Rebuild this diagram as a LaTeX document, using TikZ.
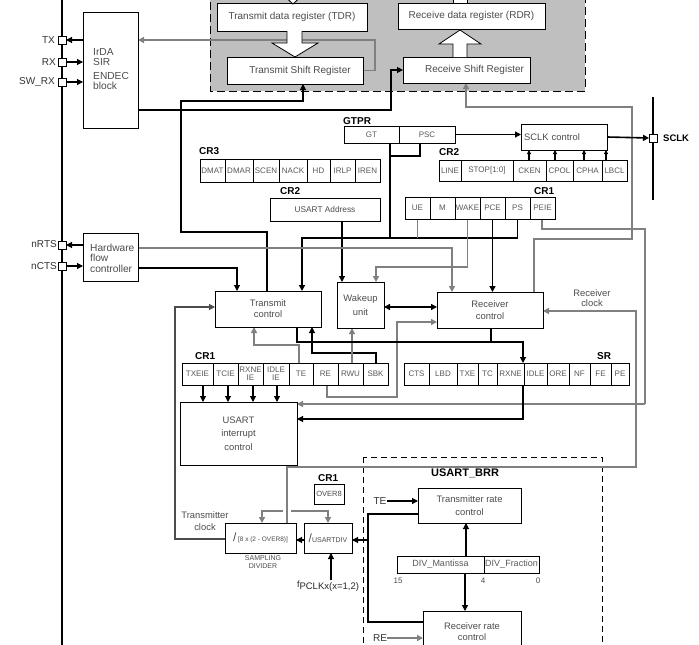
\documentclass[tikz,border=0pt]{standalone}
\usepackage{fontspec}
\setmainfont{Liberation Sans}
\usetikzlibrary{arrows.meta}
\pgfdeclarelayer{back}
\pgfdeclarelayer{bg}
\pgfsetlayers{back,bg,main}
\begin{document}
\begin{tikzpicture}[x=1pt,y=-1pt,
  box/.style={draw, fill=white, line width=0.9pt, inner sep=1pt, outer sep=0pt, font=\fontsize{9.4}{11}\selectfont, text=black!70, align=center},
  fld/.style={draw, fill=white, line width=0.9pt, inner sep=0pt, outer sep=0pt, font=\fontsize{8}{7.6}\selectfont, text=black!65, minimum height=22pt, anchor=west, align=center},
  lbl/.style={inner sep=0pt, font=\bfseries\fontsize{10}{10}\selectfont, anchor=west},
  ptxt/.style={inner sep=0pt, font=\fontsize{10}{10}\selectfont, text=black!80, anchor=east},
  txt/.style={inner sep=0pt, font=\fontsize{9.4}{10}\selectfont, text=black!70, align=center},
  pinbox/.style={draw, fill=white, minimum size=8pt, inner sep=0pt, outer sep=0pt, line width=0.8pt},
  blk/.style={line width=1.1pt, draw=black},
  thk/.style={line width=1.6pt, draw=black},
  gry/.style={line width=1.4pt, draw=black!50},
  arr/.style={-{Triangle[length=6pt,width=6pt]}},
  sarr/.style={-{Triangle[length=4pt,width=4pt]}},
]
\useasboundingbox (0,0) rectangle (699,645);
\begin{pgfonlayer}{back}
\fill[white] (0,0) rectangle (699,645);
\draw[fill=black!25, dash pattern=on 8pt off 4pt, line width=1pt] (210,-10) rectangle (585,91);
\draw[dash pattern=on 6pt off 4pt, line width=0.9pt] (363,457) rectangle (602,660);
\draw[line width=1.8pt] (62,0) -- (62,645);
\draw[line width=1.5pt] (653,97) -- (653,200);
\end{pgfonlayer}

% ---------- pins ----------
\node[pinbox] (txp) at (62,40) {};
\node[pinbox] (rxp) at (62,62) {};
\node[pinbox] (swp) at (62,82) {};
\node[pinbox] (rtsp) at (62,245) {};
\node[pinbox] (ctsp) at (62,266) {};
\node[pinbox] (sclkp) at (653,138) {};
\node[ptxt] (txl) at (55,40) {TX};
\node[ptxt] (rxl) at (56,62) {RX};
\node[ptxt] (swl) at (55,82) {SW\_RX};
\node[ptxt] (rtsl) at (57,244) {nRTS};
\node[ptxt] (ctsl) at (57,266) {nCTS};
\node[lbl, font=\bfseries\fontsize{9.5}{10}\selectfont] (sclkl) at (663,138) {SCLK};

% ---------- left blocks ----------
\node[box, minimum width=55pt, minimum height=116pt] (irda) at (110.5,70) {};
\node[txt, anchor=west, align=left, font=\fontsize{10.2}{10.5}\selectfont] (irdat1) at (93,57) {IrDA\\SIR};
\node[txt, anchor=west, align=left, font=\fontsize{10.2}{10.5}\selectfont] (irdat2) at (93,81) {ENDEC\\block};
\node[box, minimum width=55pt, minimum height=48pt] (hfc) at (110.5,257) {};
\node[txt, anchor=west, align=left, font=\fontsize{10.2}{10.5}\selectfont] (hfct) at (90,258) {Hardware\\flow\\controller};

% ---------- data registers ----------
\node[box, minimum width=150pt, minimum height=28pt, font=\fontsize{10}{10}\selectfont] (tdr) at (292,17) {Transmit data register (TDR)};
\node[box, minimum width=147pt, minimum height=26pt, font=\fontsize{10}{10}\selectfont] (rdr) at (471.5,16) {Receive data register (RDR)};
\node[box, minimum width=136pt, minimum height=27pt, font=\fontsize{10}{10}\selectfont] (tsr) at (295,70.5) {\hspace*{10pt}Transmit Shift Register};
\node[box, minimum width=127pt, minimum height=26pt, font=\fontsize{10}{10}\selectfont] (rsr) at (466.5,70) {\hspace*{16pt}Receive Shift Register};

% ---------- GTPR / SCLK ----------
\node[lbl] (gtprl) at (343,121) {GTPR};
\node[fld, minimum width=55pt, minimum height=17pt] (gt) at (344,134.5) {GT};
\node[fld, minimum width=56pt, minimum height=17pt] (psc) at (gt.east) {PSC};
\node[box, minimum width=86pt, minimum height=26pt, text width=80pt, align=left] (sclk) at (564,137) {SCLK control};

% CR2 upper
\node[lbl] (cr2al) at (439,152) {CR2};
\node[fld, minimum width=22pt, minimum height=21pt] (linef) at (439,170.5) {LINE};
\node[fld, minimum width=52pt, minimum height=21pt] (stopf) at (linef.east) {STOP[1:0]};
\node[fld, minimum width=33pt, minimum height=21pt] (cken) at (stopf.east) {CKEN};
\node[fld, minimum width=27pt, minimum height=21pt] (cpol) at (cken.east) {CPOL};
\node[fld, minimum width=29pt, minimum height=21pt] (cpha) at (cpol.east) {CPHA};
\node[fld, minimum width=25pt, minimum height=21pt] (lbcl) at (cpha.east) {LBCL};

% CR3
\node[lbl] (cr3l) at (199,151) {CR3};
\node[fld, minimum width=25pt, minimum height=23pt] (dmat) at (200,170.5) {DMAT};
\node[fld, minimum width=28pt, minimum height=23pt] (dmar) at (dmat.east) {DMAR};
\node[fld, minimum width=26pt, minimum height=23pt] (scen) at (dmar.east) {SCEN};
\node[fld, minimum width=28pt, minimum height=23pt] (nack) at (scen.east) {NACK};
\node[fld, minimum width=23pt, minimum height=23pt] (hd) at (nack.east) {HD};
\node[fld, minimum width=25pt, minimum height=23pt] (irlp) at (hd.east) {IRLP};
\node[fld, minimum width=25pt, minimum height=23pt] (iren) at (irlp.east) {IREN};

% CR2 address
\node[lbl] (cr2bl) at (280,191) {CR2};
\node[box, minimum width=110pt, minimum height=23pt, font=\fontsize{8.3}{8}\selectfont] (addr) at (325,209.5) {USART Address};

% CR1 upper
\node[lbl] (cr1al) at (534,191) {CR1};
\node[fld, minimum width=25pt] (ue) at (405,208) {UE};
\node[fld, minimum width=25pt] (mf) at (ue.east) {M};
\node[fld, minimum width=25pt] (wake) at (mf.east) {WAKE};
\node[fld, minimum width=25pt] (pce) at (wake.east) {PCE};
\node[fld, minimum width=25pt] (ps) at (pce.east) {PS};
\node[fld, minimum width=25pt] (peie) at (ps.east) {PEIE};

% ---------- control blocks ----------
\node[box, minimum width=106pt, minimum height=36pt, font=\fontsize{9.4}{11}\selectfont] (tc) at (268,309) {Transmit\\control};
\node[box, minimum width=47pt, minimum height=46pt, font=\fontsize{9.4}{13.5}\selectfont] (wu) at (360.5,305) {Wakeup\\unit};
\node[box, minimum width=106pt, minimum height=36pt, font=\fontsize{9.4}{12}\selectfont] (rc) at (490,310) {Receiver\\control};

% CR1 lower
\node[lbl] (cr1bl) at (195,356) {CR1};
\node[fld, minimum width=31pt] (txeie) at (182,374) {TXEIE};
\node[fld, minimum width=25pt] (tcie) at (txeie.east) {TCIE};
\node[fld, minimum width=25pt] (rxneie) at (tcie.east) {RXNE\\IE};
\node[fld, minimum width=26pt] (idleie) at (rxneie.east) {IDLE\\IE};
\node[fld, minimum width=24pt] (te) at (idleie.east) {TE};
\node[fld, minimum width=25pt] (re) at (te.east) {RE};
\node[fld, minimum width=25pt] (rwu) at (re.east) {RWU};
\node[fld, minimum width=25pt] (sbk) at (rwu.east) {SBK};

% SR
\node[lbl] (srl) at (597,356) {SR};
\node[fld, minimum width=25pt] (cts) at (404,374) {CTS};
\node[fld, minimum width=28pt] (lbd) at (cts.east) {LBD};
\node[fld, minimum width=21pt] (txe) at (lbd.east) {TXE};
\node[fld, minimum width=19pt] (tcf) at (txe.east) {TC};
\node[fld, minimum width=27pt] (rxne) at (tcf.east) {RXNE};
\node[fld, minimum width=23pt] (idle) at (rxne.east) {IDLE};
\node[fld, minimum width=22pt] (ore) at (idle.east) {ORE};
\node[fld, minimum width=21pt] (nf) at (ore.east) {NF};
\node[fld, minimum width=21pt] (fe) at (nf.east) {FE};
\node[fld, minimum width=18pt] (pe) at (fe.east) {PE};

% interrupt control
\node[box, minimum width=117pt, minimum height=63pt, font=\fontsize{9.4}{13.5}\selectfont] (ic) at (238.5,433.5) {USART\\interrupt\\control};

% ---------- clock part ----------
\node[lbl] (cr1cl) at (318,478) {CR1};
\node[box, minimum width=30pt, minimum height=20pt, font=\fontsize{7.5}{8}\selectfont] (over8) at (329,494) {OVER8};
\node[box, minimum width=48pt, minimum height=30pt, inner sep=0pt] (udiv) at (328,538) {{\fontsize{12}{12}\selectfont /}{\fontsize{7}{7}\selectfont USARTDIV}};
\node[box, minimum width=71pt, minimum height=30pt, inner sep=0pt] (sd) at (260.5,538) {{\fontsize{12}{12}\selectfont /}\,{\fontsize{6.5}{7}\selectfont [8 x (2 - OVER8)]}};
\node[txt, font=\fontsize{7}{8}\selectfont] (sdl) at (263,562) {SAMPLING\\DIVIDER};
\node[txt, font=\fontsize{9.4}{12}\selectfont] (txclk) at (205,521) {Transmitter\\clock};
\node[txt, font=\fontsize{9.4}{10}\selectfont] (rxclk) at (592,298) {Receiver\\clock};
\node[txt, text=black!85] (fpclk) at (328,586) {{\fontsize{9}{9}\selectfont f}\raisebox{-2.5pt}{\fontsize{9.5}{10}\selectfont PCLKx(x=1,2)}};

% USART_BRR
\node[lbl, font=\bfseries\fontsize{11}{11}\selectfont] (brrl) at (431,473) {USART\_BRR};
\node[box, minimum width=103pt, minimum height=35pt, font=\fontsize{9.4}{13}\selectfont] (txr) at (469.5,505.5) {Transmitter rate\\control};
\node[fld, minimum width=87pt, minimum height=17pt, font=\fontsize{9}{9}\selectfont] (mant) at (397,564.5) {DIV\_Mantissa};
\node[fld, minimum width=55pt, minimum height=17pt, font=\fontsize{9}{9}\selectfont] (frac) at (mant.east) {DIV\_Fraction};
\node[txt, font=\fontsize{8}{8}\selectfont] (n15) at (398,581) {15};
\node[txt, font=\fontsize{8}{8}\selectfont] (n4) at (483,581) {4};
\node[txt, font=\fontsize{8}{8}\selectfont] (n0) at (538,581) {0};
\node[box, minimum width=98pt, minimum height=42pt, font=\fontsize{9.4}{11}\selectfont] (rxr) at (472,632) {Receiver rate\\control};
\node[txt, font=\fontsize{10}{10}\selectfont, text=black!80] (tel) at (380,501) {TE};
\node[txt, font=\fontsize{10}{10}\selectfont, text=black!80] (rel) at (380,638) {RE};

% ---------- fat arrows ----------
\draw[fill=white, line width=0.8pt] (287,31) -- (287,43) -- (272,43) -- (295,57) -- (318,43) -- (302,43) -- (302,31);
\draw[fill=white, line width=0.8pt] (453,57) -- (453,44) -- (439,44) -- (460,30) -- (481,44) -- (467,44) -- (467,57);
\draw[fill=white, line width=0.8pt] (280,-8) -- (293,4) -- (306,-8);
\draw[fill=white, line width=0.8pt] (453,3) -- (453,-5) -- (467,-5) -- (467,3);

% ---------- connectors ----------
\begin{pgfonlayer}{bg}
% pins
\draw[blk,arr] (irda.west |- txp) -- (txp.east);
\draw[blk,arr] (rxp.east) -- (irda.west |- rxp);
\draw[blk,arr] (swp.east) -- (irda.west |- swp);
\draw[blk,arr] (hfc.west |- rtsp) -- (rtsp.east);
\draw[blk,arr] (ctsp.east) -- (hfc.west |- ctsp);
% shift registers
\draw[gry,arr] (tsr.east) -- (375,70.5) -- (375,40) -- (irda.east |- 0,40);
\draw[blk,arr] (irda.east |- 0,110) -- (391,110) -- (391,70) -- (rsr.west);
\draw[blk,arr] (tc.north -| 267,0) -- (267,232) -- (181,232) -- (181,101) -- (303,101) -- (tsr.south -| 303,0);
\draw[gry,arr] (rc.north -| 534,0) -- (534,239) -- (632,239) -- (632,107) -- (466,107) -- (rsr.south -| 466,0);
% GTPR / SCLK
\draw[blk] (gt.south -| 390,0) -- (390,238);
\draw[blk] (390,156) -- (420,156) -- (psc.south -| 420,0);
\draw[blk,arr] (psc.east) -- (sclk.west |- psc.east);
\draw[thk,arr] (sclk.east) -- (sclkp.west);
\draw[blk,sarr] (cken.north -| 529,0) -- (sclk.south -| 529,0);
\draw[blk,sarr] (cpol.north -| 555,0) -- (sclk.south -| 555,0);
\draw[blk,sarr] (cpha.north -| 584,0) -- (sclk.south -| 584,0);
\draw[blk,sarr] (lbcl.north -| 606,0) -- (sclk.south -| 606,0);
% CR1 upper to controls
\draw[thk,arr] (ps.south) -- (517.5,238) -- (302,238) -- (tc.north -| 302,0);
\draw[gry] (ue.south) -- (417.5,238);
\draw[gry,arr] (wake.south) -- (467.5,267) -- (376,267) -- (wu.north -| 376,0);
\draw[thk,arr] (pce.south) -- (rc.north -| pce.south);
\draw[gry] (peie.south -| 542,0) -- (542,229) -- (645,229) -- (645,404);
\draw[gry,arr] (645,404) -- (ic.east |- 0,404);
\draw[blk,arr] (addr.south -| 342,0) -- (wu.north -| 342,0);
% HFC
\draw[gry,arr] (hfc.east |- 0,248) -- (452,248) -- (rc.north -| 452,0);
\draw[blk,arr] (hfc.east |- 0,268) -- (237,268) -- (tc.north -| 237,0);
% wakeup <-> receiver
\draw[thk,{Triangle[length=6pt,width=6pt]}-{Triangle[length=6pt,width=6pt]}] (wu.east |- 0,307) -- (rc.west |- 0,307);
% CR1 lower
\draw[gry,arr] (re.south -| 327,0) -- (327,397) -- (397,397) -- (397,322) -- (rc.west |- 0,322);
\draw[gry,arr] (te.north -| 299,0) -- (299,345) -- (254,345) -- (tc.south -| 254,0);
\draw[blk,arr] (sbk.north -| 376,0) -- (376,353) -- (312,353) -- (tc.south -| 312,0);
\draw[gry,arr] (rwu.north -| 352,0) -- (wu.south -| 352,0);
\draw[blk] (tc.south -| 297,0) -- (297,342) -- (491,342);
\draw[blk,arr] (rc.south -| 491,0) -- (491,342) -- (523,342) -- (rxne.north -| 523,0);
\draw[blk,arr] (rxne.south -| 523,0) -- (523,419) -- (ic.east |- 0,419);
\draw[blk,arr] (txeie.south -| 203,0) -- (ic.north -| 203,0);
\draw[blk,arr] (tcie.south -| 228,0) -- (ic.north -| 228,0);
\draw[blk,arr] (rxneie.south -| 253,0) -- (ic.north -| 253,0);
\draw[blk,arr] (idleie.south -| 277,0) -- (ic.north -| 277,0);
% clocks
\draw[line width=1.2pt, draw=black!70, arr] (sd.west |- 0,539) -- (175,539) -- (175,307) -- (tc.west |- 0,307);
\draw[gry,arr] (sd.north -| 287,0) -- (287,467) -- (636,467) -- (636,311) -- (rc.east |- 0,311);
\draw[gry,arr] (283,511) -- (262,511) -- (sd.north -| 262,0);
\draw[gry,arr] (291,511) -- (328,511) -- (udiv.north -| 328,0);
\draw[blk,arr] (udiv.west |- 0,540) -- (sd.east |- 0,540);
\draw[blk] (txr.west |- 0,514) -- (368,514) -- (368,622) -- (rxr.west |- 0,622);
\draw[blk,arr] (368,540) -- (udiv.east |- 0,540);
\draw[blk,arr] (fpclk.north -| 331,0) -- (udiv.south -| 331,0);
\draw[blk,arr] (tel.east) -- (txr.west |- tel.east);
\draw[gry,arr] (rel.east) -- (rxr.west |- rel.east);
\draw[blk,arr] (mant.north -| 466,0) -- (txr.south -| 466,0);
\draw[blk,arr] (mant.south -| 465,0) -- (rxr.north -| 465,0);
\end{pgfonlayer}
\end{tikzpicture}
\end{document}
